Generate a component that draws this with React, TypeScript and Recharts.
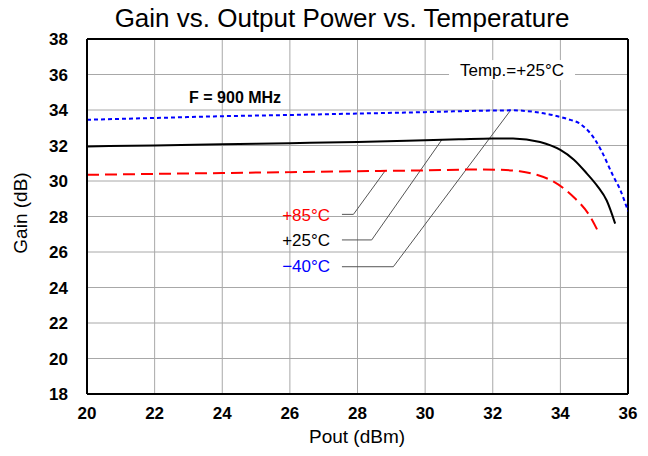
import React from 'react';
import {
  LineChart,
  Line,
  XAxis,
  YAxis,
  CartesianGrid,
  ReferenceLine,
  ReferenceDot,
} from 'recharts';

// Pout (dBm) vs Gain (dB)
const coldData = [
  { x: 20, y: 33.45 }, { x: 22, y: 33.55 }, { x: 24, y: 33.65 }, { x: 26, y: 33.72 },
  { x: 28, y: 33.8 }, { x: 30, y: 33.88 }, { x: 31, y: 33.93 }, { x: 32, y: 33.97 },
  { x: 32.6, y: 33.98 }, { x: 33.2, y: 33.9 }, { x: 33.8, y: 33.7 }, { x: 34.2, y: 33.5 },
  { x: 34.6, y: 33.2 }, { x: 35.0, y: 32.4 }, { x: 35.2, y: 31.75 }, { x: 35.57, y: 30.25 },
  { x: 35.77, y: 29.5 }, { x: 36, y: 28.3 },
];
const roomData = [
  { x: 20, y: 31.95 }, { x: 22, y: 32.0 }, { x: 24, y: 32.07 }, { x: 26, y: 32.13 },
  { x: 28, y: 32.2 }, { x: 30, y: 32.3 }, { x: 31, y: 32.35 }, { x: 32, y: 32.4 },
  { x: 32.6, y: 32.4 }, { x: 33.4, y: 32.2 }, { x: 34, y: 31.75 }, { x: 34.4, y: 31.2 },
  { x: 34.78, y: 30.43 }, { x: 35.1, y: 29.7 }, { x: 35.37, y: 28.9 }, { x: 35.62, y: 27.6 },
];
const hotData = [
  { x: 20, y: 30.35 }, { x: 22, y: 30.4 }, { x: 24, y: 30.45 }, { x: 26, y: 30.5 },
  { x: 28, y: 30.55 }, { x: 30, y: 30.6 }, { x: 31.5, y: 30.65 }, { x: 32.2, y: 30.63 },
  { x: 32.8, y: 30.55 }, { x: 33.3, y: 30.35 }, { x: 33.8, y: 29.96 }, { x: 34.39, y: 29.1 },
  { x: 34.88, y: 28.0 }, { x: 35.13, y: 27.1 },
];

const xTicks = [20, 22, 24, 26, 28, 30, 32, 34, 36];
const yTicks = [18, 20, 22, 24, 26, 28, 30, 32, 34, 36, 38];

// leader lines: label end -> elbow -> curve
const hotLeader = [{ x: 27.54, y: 28.12 }, { x: 27.88, y: 28.12 }, { x: 28.82, y: 30.58 }];
const roomLeader = [{ x: 27.54, y: 26.68 }, { x: 28.42, y: 26.68 }, { x: 30.49, y: 32.31 }];
const coldLeader = [{ x: 27.54, y: 25.17 }, { x: 29.06, y: 25.17 }, { x: 32.51, y: 33.94 }];

const labels = [
  { text: '+85°C', x: 26.48, y: 28.08, color: '#ff0000' },
  { text: '+25°C', x: 26.48, y: 26.68, color: '#000000' },
  { text: '−40°C', x: 26.48, y: 25.21, color: '#0000ff' },
];

const font = '"Liberation Sans", Arial, sans-serif';

const TempLabel = (props: any) => {
  const { viewBox } = props;
  const cx = viewBox.x + (viewBox.width || 0) / 2;
  const cy = viewBox.y + (viewBox.height || 0) / 2;
  return (
    <g>
      <rect x={cx - 63} y={cy - 10} width={126} height={20} fill="#fff" />
      <text x={cx} y={cy} textAnchor="middle" dominantBaseline="central" fontSize={17} fontFamily={font} fill="#000">
        Temp.=+25°C
      </text>
    </g>
  );
};

const leaderLines = (pts: { x: number; y: number }[], key: string) =>
  pts.slice(1).map((p, i) => (
    <ReferenceLine
      key={key + i}
      segment={[pts[i], p]}
      stroke="#555"
      strokeWidth={1}
      ifOverflow="visible"
    />
  ));

export default function App() {
  return (
    <div style={{ position: 'absolute', left: 0, top: 0, width: 648, height: 456, background: '#fff', fontFamily: font }}>
      <div style={{ position: 'absolute', left: 0, width: 684, top: 3, textAlign: 'center', fontSize: 26, lineHeight: '30px' }}>
        Gain vs. Output Power vs. Temperature
      </div>
      <div style={{ position: 'absolute', left: 0, width: 714, top: 425, textAlign: 'center', fontSize: 19, lineHeight: '24px' }}>
        Pout (dBm)
      </div>
      <div
        style={{
          position: 'absolute', left: 21, top: 213, fontSize: 19, lineHeight: '24px',
          transform: 'translate(-50%, -50%) rotate(-90deg)', whiteSpace: 'nowrap',
        }}
      >
        Gain (dB)
      </div>
      <LineChart width={648} height={456} margin={{ top: 39, right: 20, bottom: 32, left: 0 }} style={{ position: 'absolute', left: 0, top: 0 }}>
        <CartesianGrid stroke="#a8a8a8" strokeWidth={1} />
        <XAxis
          type="number"
          dataKey="x"
          domain={[20, 36]}
          ticks={xTicks}
          height={30}
          allowDataOverflow
          tickLine={false}
          tickSize={0}
          tickMargin={13}
          axisLine={{ stroke: '#000', strokeWidth: 2 }}
          tick={{ fill: '#000', fontSize: 17, fontWeight: 'bold', fontFamily: font }}
        />
        <YAxis
          type="number"
          domain={[18, 38]}
          ticks={yTicks}
          width={87}
          allowDataOverflow
          tickLine={false}
          tickSize={0}
          tickMargin={19}
          axisLine={{ stroke: '#000', strokeWidth: 2 }}
          tick={{ fill: '#000', fontSize: 17, fontWeight: 'bold', fontFamily: font }}
        />
        <ReferenceLine x={36} stroke="#000" strokeWidth={2} />
        <ReferenceLine y={38} stroke="#000" strokeWidth={2} />
        {leaderLines(hotLeader, 'h')}
        {leaderLines(roomLeader, 'r')}
        {leaderLines(coldLeader, 'c')}
        <Line data={coldData} dataKey="y" type="monotone" stroke="#0000ff" strokeWidth={2} strokeDasharray="4 3" dot={false} isAnimationActive={false} />
        <Line data={roomData} dataKey="y" type="monotone" stroke="#000000" strokeWidth={2} dot={false} isAnimationActive={false} />
        <Line data={hotData} dataKey="y" type="monotone" stroke="#ff0000" strokeWidth={2} strokeDasharray="12 6" dot={false} isAnimationActive={false} />
        {labels.map((l) => (
          <ReferenceDot
            key={l.text}
            x={l.x}
            y={l.y}
            r={0}
            stroke="none"
            ifOverflow="visible"
            label={{ value: l.text, position: 'center', fill: l.color, fontSize: 17, fontFamily: font }}
          />
        ))}
        <ReferenceDot
          x={24.38}
          y={34.73}
          r={0}
          stroke="none"
          ifOverflow="visible"
          label={{ value: 'F = 900 MHz', position: 'center', fill: '#000', fontSize: 16, fontWeight: 'bold', fontFamily: font }}
        />
        <ReferenceDot x={32.57} y={36.25} r={0} stroke="none" ifOverflow="visible" label={<TempLabel />} />
      </LineChart>
    </div>
  );
}
